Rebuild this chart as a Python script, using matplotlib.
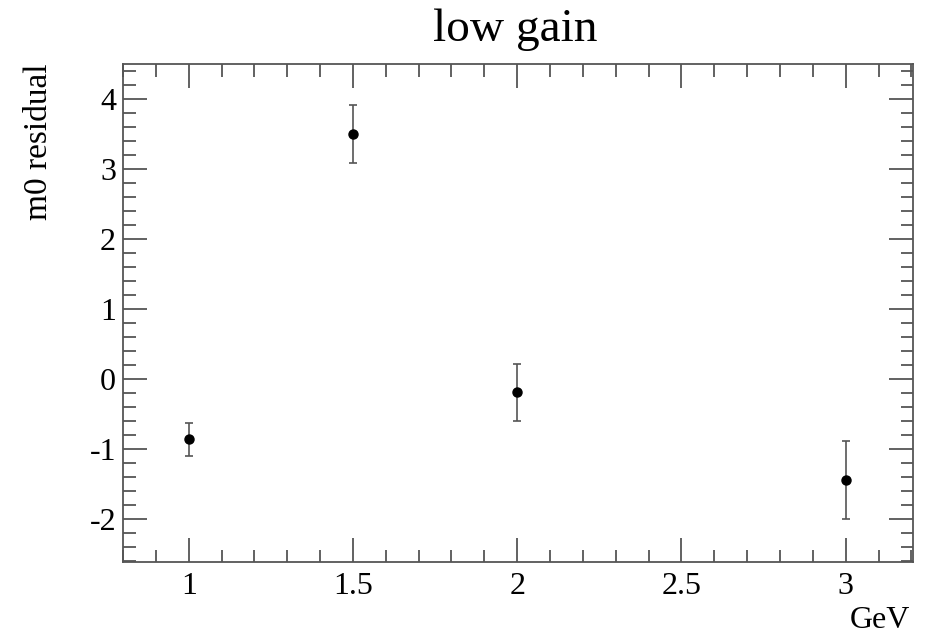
import matplotlib
matplotlib.use("Agg")
import matplotlib.pyplot as plt
from matplotlib.ticker import MultipleLocator

energy = [1.0, 1.5, 2.0, 3.0]
residual = [-0.86, 3.50, -0.19, -1.44]
error = [0.24, 0.41, 0.40, 0.56]

plt.rcParams['font.family'] = ['Liberation Serif', 'DejaVu Serif']
plt.rcParams['axes.unicode_minus'] = False

fig = plt.figure(figsize=(9.3, 6.36), dpi=100)
ax = fig.add_axes([123/930, 1-562/636, (913-123)/930, (562-64)/636])

ax.errorbar(energy, residual, yerr=error, fmt='o', color='black', ms=6.5,
            ecolor='#555555', elinewidth=1.2, capsize=3, capthick=1.2)

ax.set_xlim(0.8, 3.205)
ax.set_ylim(-2.61, 4.5)
ax.xaxis.set_major_locator(MultipleLocator(0.5))
ax.xaxis.set_minor_locator(MultipleLocator(0.1))
ax.yaxis.set_major_locator(MultipleLocator(1))
ax.yaxis.set_minor_locator(MultipleLocator(0.2))
ax.set_xticks([1, 1.5, 2, 2.5, 3])
ax.set_xticklabels(['1', '1.5', '2', '2.5', '3'])

for s in ax.spines.values():
    s.set_color('#555555')
    s.set_linewidth(1.3)
ax.tick_params(which='both', direction='in', top=True, right=True, color='#555555',
               width=1.3)
ax.tick_params(axis='x', labelsize=23, pad=7)
ax.tick_params(axis='y', labelsize=23, pad=5)
ax.tick_params(which='major', length=17)
ax.tick_params(which='minor', length=9)

fig.text(515/930, 1-30/636, 'low gain', ha='center', va='center', fontsize=34)
fig.text(39/930, 1-63/636, 'm0 residual', rotation=90, ha='center', va='top', fontsize=24)
fig.text(910/930, 1-620/636, 'GeV', ha='right', va='center', fontsize=23)

fig.savefig('out.png', dpi=100)
